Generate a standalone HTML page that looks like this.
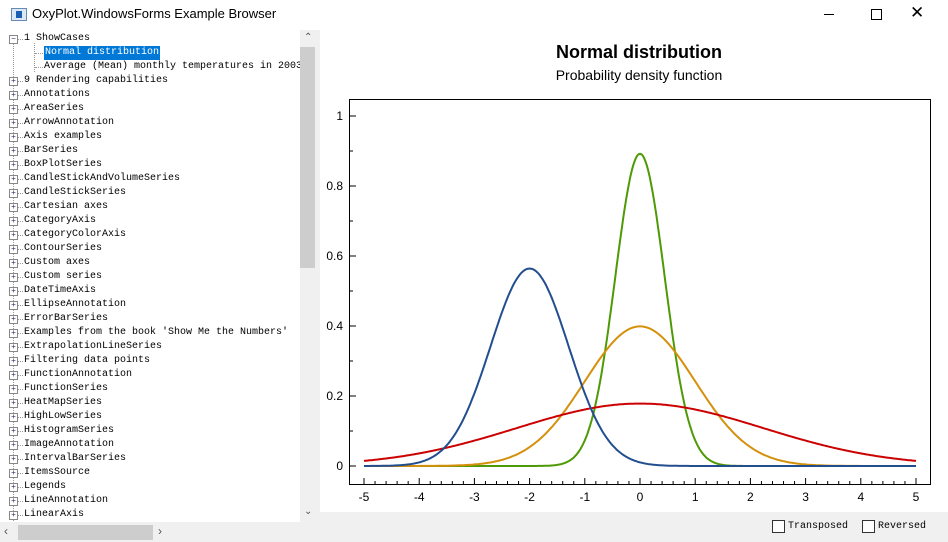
<!DOCTYPE html>
<html><head><meta charset="utf-8"><style>
body{margin:0;width:948px;height:542px;overflow:hidden;background:#fff;font-family:"Liberation Sans",sans-serif;position:relative}
.tb{position:absolute;left:0;top:0;width:948px;height:30px;background:#fff}
.tree{position:absolute;left:0;top:31px;width:300px;height:491px;overflow:hidden;font-family:"Liberation Mono",monospace;font-size:10px;color:#000}
.it{position:absolute;left:24px;white-space:nowrap;height:14px;line-height:14px}
.pm{position:absolute;left:9px;width:7px;height:7px;border:1px solid #888;background:#fff;font-size:8px;line-height:7px;text-align:center;color:#336}
.vs{position:absolute;left:300px;top:30px;width:20px;height:492px;background:#f0f0f0}
.hs{position:absolute;left:0;top:522px;width:320px;height:20px;background:#f0f0f0}
.bot{position:absolute;left:320px;top:512px;width:628px;height:30px;background:#f0f0f0}
.cb{position:absolute;top:520px;width:11px;height:11px;border:1px solid #333;background:#fff}
.cl{position:absolute;top:521px;font-family:"Liberation Mono",monospace;font-size:10px}
</style></head><body>
<div class="tb">
<div style="position:absolute;left:11px;top:8px;width:14px;height:11px;background:#dbe8f5;border:1px solid #6a8bb0"><div style="position:absolute;left:4px;top:2px;width:6px;height:7px;background:#1c5fb0"></div></div>
<div style="position:absolute;left:32px;top:6px;font-size:13px">OxyPlot.WindowsForms Example Browser</div>
<div style="position:absolute;left:824px;top:14px;width:10px;height:1px;background:#000"></div>
<div style="position:absolute;left:871px;top:9px;width:9px;height:9px;border:1px solid #000"></div>
<div style="position:absolute;left:910px;top:3px;font-size:17px;line-height:20px">✕</div>
</div>
<div class="tree" id="tree"></div>
<div class="vs"><div style="position:absolute;left:0;top:17px;width:15px;height:221px;background:#cdcdcd"></div>
<div style="position:absolute;left:4px;top:2px;font-size:10px;color:#555">⌃</div>
<div style="position:absolute;left:4px;top:476px;font-size:10px;color:#555">⌄</div></div>
<div class="hs"><div style="position:absolute;left:18px;top:3px;width:135px;height:15px;background:#cdcdcd"></div>
<div style="position:absolute;left:4px;top:2px;font-size:12px;color:#555">‹</div>
<div style="position:absolute;left:158px;top:2px;font-size:12px;color:#555">›</div></div>
<div class="bot"></div>
<div class="cb" style="left:772px"></div><div class="cl" style="left:788px">Transposed</div>
<div class="cb" style="left:862px"></div><div class="cl" style="left:878px">Reversed</div>
<svg style="position:absolute;left:0;top:0" width="948" height="542" id="svg">
<text x="639" y="58" text-anchor="middle" font-size="18" font-weight="bold" font-family="Liberation Sans">Normal distribution</text>
<text x="639" y="80" text-anchor="middle" font-size="14" font-family="Liberation Sans">Probability density function</text>
<rect x="349.5" y="99.5" width="581" height="385" fill="none" stroke="#000" stroke-width="1"/>
<g id="g"></g>
</svg>
<script>
var items=["1 ShowCases","Normal distribution","Average (Mean) monthly temperatures in 2003","9 Rendering capabilities","Annotations","AreaSeries","ArrowAnnotation","Axis examples","BarSeries","BoxPlotSeries","CandleStickAndVolumeSeries","CandleStickSeries","Cartesian axes","CategoryAxis","CategoryColorAxis","ContourSeries","Custom axes","Custom series","DateTimeAxis","EllipseAnnotation","ErrorBarSeries","Examples from the book 'Show Me the Numbers'","ExtrapolationLineSeries","Filtering data points","FunctionAnnotation","FunctionSeries","HeatMapSeries","HighLowSeries","HistogramSeries","ImageAnnotation","IntervalBarSeries","ItemsSource","Legends","LineAnnotation","LinearAxis","LinearBarSeries"];
var h="";
h+='<div style="position:absolute;left:13px;top:12px;height:480px;border-left:1px dotted #999"></div>';
items.forEach(function(t,i){var y=1+i*14;
 if(i==1||i==2){h+='<div style="position:absolute;left:34px;top:12px;height:'+(i==1?15:29)+'px;border-left:1px dotted #999"></div><div style="position:absolute;left:35px;top:'+(y+7)+'px;width:8px;border-top:1px dotted #999"></div>';
  h+='<div class="it" style="left:44px;top:'+y+'px;'+(i==1?'background:#0078d7;color:#fff;padding:0 1px':'')+'">'+t+'</div>';}
 else{h+='<div class="pm" style="top:'+(y+3)+'px">'+(i==0?'−':'+')+'</div><div style="position:absolute;left:18px;top:'+(y+7)+'px;width:5px;border-top:1px dotted #999"></div><div class="it" style="top:'+y+'px">'+t+'</div>';}
});
document.getElementById('tree').innerHTML=h;
var g="",X=function(v){return 640+v*55.2},Y=function(v){return 466-v*350};
for(var i=-5;i<=5;i++){g+='<line x1="'+X(i)+'" y1="484" x2="'+X(i)+'" y2="478" stroke="#000"/><text x="'+X(i)+'" y="501" text-anchor="middle" font-size="12" font-family="Liberation Sans">'+(i<0?'-'+(-i):i)+'</text>';}
for(var i=-5;i<5;i+=0.2){if(Math.abs(i-Math.round(i))>0.01)g+='<line x1="'+X(i)+'" y1="484" x2="'+X(i)+'" y2="481" stroke="#000"/>';}
for(var j=0;j<=10;j++){var v=j/10,y=Y(v);g+='<line x1="349" y1="'+y+'" x2="'+(j%2?353:356)+'" y2="'+y+'" stroke="#000"/>';
 if(j%2==0)g+='<text x="343" y="'+(y+4)+'" text-anchor="end" font-size="12" font-family="Liberation Sans">'+(j==0?'0':j==10?'1':v.toFixed(1))+'</text>';}
var S=[[0,0.2,"#4e9a06"],[0,1,"#d4900b"],[0,5,"#cc0000"],[-2,0.5,"#224e8f"]];
S.forEach(function(s){var d="";for(var k=0;k<=400;k++){var x=-5+k*10/400,p=Math.exp(-(x-s[0])*(x-s[0])/(2*s[1]))/Math.sqrt(2*Math.PI*s[1]);d+=(k?"L":"M")+X(x).toFixed(1)+" "+Y(p).toFixed(1);}
g+='<path d="'+d+'" fill="none" stroke="'+s[2]+'" stroke-width="2"/>';});
document.getElementById('g').innerHTML=g;
</script>
</body></html>
